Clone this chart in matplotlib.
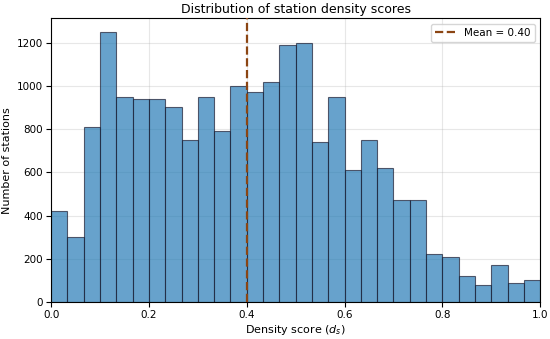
import matplotlib
matplotlib.use("Agg")
import matplotlib.pyplot as plt
import numpy as np

bin_edges = np.linspace(0, 1, 31)
counts = [420, 300, 810, 1250, 950, 940, 940, 900, 750, 950,
          790, 1000, 970, 1020, 1190, 1200, 740, 950, 610, 750,
          620, 470, 470, 220, 210, 120, 80, 170, 90, 100]
mean_value = 0.40

fig = plt.figure(figsize=(5.5, 3.39), dpi=100)
ax = fig.add_axes([0.093, 0.109, 0.889, 0.837])
ax.hist(bin_edges[:-1], bins=bin_edges, weights=counts,
        color='#1f77b4', alpha=0.68, edgecolor='#1a1a2e', linewidth=0.8, zorder=2)
ax.axvline(mean_value, color='#8B4513', linestyle='--', linewidth=1.6,
           label=f'Mean = {mean_value:.2f}', zorder=3)
ax.set_xlim(0, 1)
ax.grid(True, alpha=0.3, zorder=0)
ax.set_axisbelow(True)
ax.set_title('Distribution of station density scores', fontsize=9, pad=4)
ax.set_xlabel('Density score ($d_s$)', fontsize=8, labelpad=2)
ax.set_ylabel('Number of stations', fontsize=8, labelpad=3)
ax.tick_params(labelsize=7.5, pad=2.5)
ax.legend(fontsize=7.5, loc='upper right')
fig.savefig('out.png', dpi=100)
